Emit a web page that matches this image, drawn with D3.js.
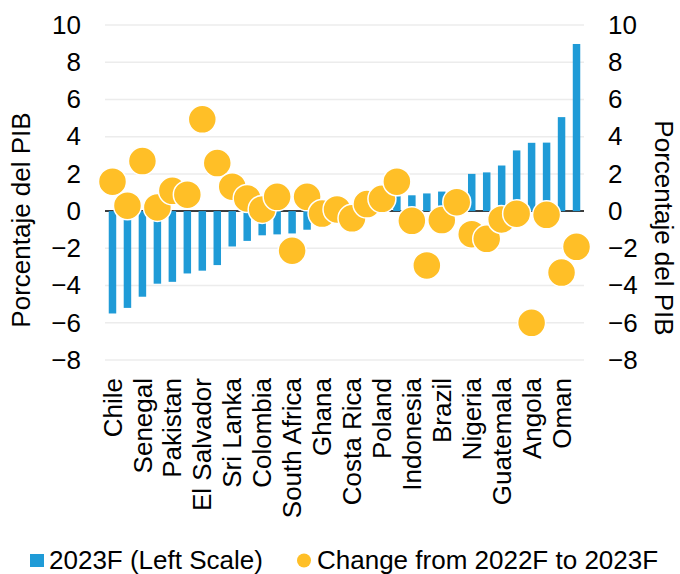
<!DOCTYPE html>
<html>
<head>
<meta charset="utf-8">
<script src="https://cdn.jsdelivr.net/npm/d3@7"></script>
<style>
  body { margin: 0; background: #fff; }
  svg text { font-family: "Liberation Sans", Arial, sans-serif; fill: #000; }
</style>
</head>
<body>
<div id="chart"></div>
<script>
// only every other country is labelled on the axis
const countries = ["Chile", "", "Senegal", "", "Pakistan", "", "El Salvador", "", "Sri Lanka", "",
  "Colombia", "", "South Africa", "", "Ghana", "", "Costa Rica", "", "Poland", "",
  "Indonesia", "", "Brazil", "", "Nigeria", "", "Guatemala", "", "Angola", "", "Oman", ""];

// 2023F, left scale
const balance2023 = [-5.5, -5.2, -4.6, -3.9, -3.8, -3.35, -3.2, -2.9, -1.9, -1.6,
  -1.3, -1.25, -1.2, -1.0, -0.7, -0.4, -0.1, 0.2, 0.5, 0.8,
  0.85, 0.95, 1.05, 1.15, 2.0, 2.08, 2.45, 3.26, 3.67, 3.68, 5.05, 8.98];

// change from 2022F to 2023F, right scale
const change = [1.58, 0.29, 2.69, 0.2, 1.09, 0.88, 4.93, 2.58, 1.31, 0.68,
  0.09, 0.77, -2.13, 0.77, -0.13, 0.09, -0.39, 0.38, 0.66, 1.58,
  -0.52, -2.92, -0.48, 0.48, -1.24, -1.49, -0.45, -0.14, -6.0, -0.2, -3.3, -1.92];

const yTicks = [-8, -6, -4, -2, 0, 2, 4, 6, 8, 10];

const width = 680, height = 574;
const margin = {top: 25, right: 96, bottom: 214, left: 105};
const plotW = width - margin.left - margin.right;
const plotH = height - margin.top - margin.bottom;
const fontSize = "26px";

const svg = d3.select("#chart").append("svg")
    .attr("width", width)
    .attr("height", height);

const g = svg.append("g")
    .attr("transform", "translate(" + margin.left + "," + margin.top + ")");

const x = d3.scaleBand()
    .domain(d3.range(countries.length))
    .range([0, plotW])
    .paddingInner(0.5)
    .paddingOuter(0.25);

const yLeft = d3.scaleLinear().domain([-8, 10]).range([plotH, 0]);
const yRight = d3.scaleLinear().domain([-8, 10]).range([plotH, 0]);

// gridlines
g.append("g")
  .selectAll("line")
  .data(yTicks)
  .enter()
  .append("line")
    .attr("x1", 0)
    .attr("x2", plotW)
    .attr("y1", d => yLeft(d))
    .attr("y2", d => yLeft(d))
    .attr("stroke", "#ececec")
    .attr("stroke-width", 1.5);

// zero line
g.append("line")
    .attr("x1", 0)
    .attr("x2", plotW)
    .attr("y1", yLeft(0))
    .attr("y2", yLeft(0))
    .attr("stroke", "#000")
    .attr("stroke-width", 1.5);

// bars
g.append("g")
  .selectAll("rect")
  .data(balance2023)
  .enter()
  .append("rect")
    .attr("x", (d, i) => x(i))
    .attr("width", x.bandwidth())
    .attr("y", d => yLeft(Math.max(0, d)))
    .attr("height", d => Math.abs(yLeft(d) - yLeft(0)))
    .attr("fill", "#1f9bd7");

// dots
g.append("g")
  .selectAll("circle")
  .data(change)
  .enter()
  .append("circle")
    .attr("cx", (d, i) => x(i) + x.bandwidth() / 2)
    .attr("cy", d => yRight(d))
    .attr("r", 14)
    .attr("fill", "#ffbf27")
    .attr("stroke", "#fff")
    .attr("stroke-width", 1.5);

// axes
const leftAxis = g.append("g")
    .call(d3.axisLeft(yLeft).tickValues(yTicks).tickSize(0).tickPadding(24));

const rightAxis = g.append("g")
    .attr("transform", "translate(" + plotW + ",0)")
    .call(d3.axisRight(yRight).tickValues(yTicks).tickSize(0).tickPadding(24));

const bottomAxis = g.append("g")
    .attr("transform", "translate(0," + plotH + ")")
    .call(d3.axisBottom(x)
        .tickValues(d3.range(countries.length).filter(i => countries[i] !== ""))
        .tickFormat(i => countries[i])
        .tickSize(0));

[leftAxis, rightAxis, bottomAxis].forEach(a => {
    a.select(".domain").remove();
    a.selectAll("text")
        .style("font-family", "'Liberation Sans', Arial, sans-serif")
        .style("font-size", fontSize)
        .attr("fill", "#000");
});

bottomAxis.selectAll("text")
    .attr("y", 0)
    .attr("x", -18)
    .attr("dy", "0.35em")
    .attr("transform", "rotate(-90)")
    .style("text-anchor", "end");

// axis titles
svg.append("text")
    .attr("transform", "translate(30,220) rotate(-90)")
    .attr("text-anchor", "middle")
    .attr("font-size", fontSize)
    .text("Porcentaje del PIB");

svg.append("text")
    .attr("transform", "translate(655,228) rotate(90)")
    .attr("text-anchor", "middle")
    .attr("font-size", fontSize)
    .text("Porcentaje del PIB");

// legend
const legend = svg.append("g");

legend.append("rect")
    .attr("x", 30)
    .attr("y", 554)
    .attr("width", 14)
    .attr("height", 13)
    .attr("fill", "#1f9bd7");

legend.append("text")
    .attr("x", 49)
    .attr("y", 569)
    .attr("font-size", fontSize)
    .text("2023F (Left Scale)");

legend.append("circle")
    .attr("cx", 304)
    .attr("cy", 560.5)
    .attr("r", 7)
    .attr("fill", "#ffbf27");

legend.append("text")
    .attr("x", 317)
    .attr("y", 569)
    .attr("font-size", fontSize)
    .text("Change from 2022F to 2023F");
</script>
</body>
</html>
